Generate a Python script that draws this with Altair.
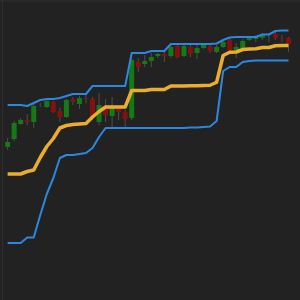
import altair as alt
import pandas as pd

# Candle index (bars)
idx = list(range(44))

opens = [153, 161, 176, 180, 178, 195, 193, 198, 189, 183, 201, 196, 202, 201, 178, 192, 184, 192, 188, 182,
         238, 236, 239, 244, 246, 244, 254, 244, 253, 247, 252, 254, 248, 253, 260, 250, 252, 260, 261, 262,
         265, 266, 262, 262]
closes = [158, 177, 180, 178, 194, 195, 199, 188, 183, 200, 198, 202, 201, 183, 195, 185, 192, 188, 181, 240,
          233, 239, 243, 246, 244, 253, 243, 254, 246, 252, 255, 249, 253, 258, 250, 253, 259, 262, 263, 265,
          265, 262, 261.5, 256]
highs = [162, 179, 182, 186, 197, 197, 200, 199, 192, 201, 203, 204, 206, 203, 207, 201, 203, 194, 190, 242,
         242, 245, 247, 247, 249, 255, 255, 256, 256, 255, 257, 257, 255, 260, 262, 257, 261, 263, 265, 267,
         267, 268, 265, 263]
lows = [150, 159, 175, 175, 172, 193, 192, 187, 178, 182, 195, 191, 197, 180, 175, 178, 173, 180, 173, 180,
        228, 233, 233, 242, 238, 242, 242, 243, 243, 241, 251, 247, 247, 252, 248, 242, 250, 259, 258, 260,
        258, 260, 258, 248]

# Donchian channel
upper = [195, 195, 195, 194, 197, 200, 201, 201, 202, 204, 206, 206, 206, 214, 214, 214, 214, 214, 214, 247,
         247, 247, 249, 249, 249, 256, 256, 256, 256, 256, 256, 256, 256.5, 260, 262.5, 263, 263, 263, 263, 265.5,
         265.5, 269, 269.5, 269.5]
lower = [57, 57, 57, 62.5, 62.5, 85, 106, 122, 142, 145, 145, 146, 147, 152, 163, 172, 172, 172, 172, 172,
         172, 172, 172, 172, 172, 172, 172, 172, 172.5, 172.5, 173, 173.5, 179, 229, 233, 233, 238, 239, 239.5, 239.5,
         239.5, 239.5, 239.5, 239.5]
middle = [126, 126, 126, 128.5, 130, 142.5, 153.5, 161.5, 172, 174.5, 175.5, 176, 176.5, 183, 188.5, 193, 193, 193, 193, 209.5,
          209.5, 209.5, 210.5, 210.5, 210.5, 214, 214, 214, 214.25, 214.25, 214.5, 214.75, 217.75, 244.5, 247.75, 248, 250.5, 251, 251.25, 252.5,
          252.5, 254.25, 254.5, 254.5]

df = pd.DataFrame({"i": idx, "open": opens, "close": closes, "high": highs, "low": lows,
                   "upper": upper, "lower": lower, "middle": middle})
df["dir"] = ["up" if c >= o else "down" for o, c in zip(opens, closes)]

xs = alt.Scale(domain=[-0.4, 44.0], nice=False, zero=False)
ys = alt.Scale(domain=[0, 300], nice=False, zero=False)
X = alt.X("i:Q", scale=xs, axis=None)

base = alt.Chart(df)

grid_v = alt.Chart(pd.DataFrame({"a": [0]})).mark_rule(color="#2e2e2e", strokeWidth=1).encode(
    x=alt.value(2.5), y=alt.value(0), y2=alt.value(300))
grid_h = alt.Chart(pd.DataFrame({"a": [0]})).mark_rule(color="#2e2e2e", strokeWidth=1).encode(
    y=alt.value(1), x=alt.value(0), x2=alt.value(300))

wicks = base.mark_rule(color="#4e4e4e", strokeWidth=1).encode(
    x=X, y=alt.Y("low:Q", scale=ys, axis=None), y2="high:Q")

bodies = base.mark_bar(size=5).encode(
    x=X, y=alt.Y("open:Q", scale=ys, axis=None), y2="close:Q",
    color=alt.Color("dir:N", scale=alt.Scale(domain=["up", "down"], range=["#157a15", "#85100f"]), legend=None))

band_lo = base.mark_line(color="#2b88e0", strokeWidth=2, strokeJoin="round").encode(
    x=X, y=alt.Y("lower:Q", scale=ys, axis=None))
band_up = base.mark_line(color="#2b88e0", strokeWidth=2, strokeJoin="round").encode(
    x=X, y=alt.Y("upper:Q", scale=ys, axis=None))
mid = base.mark_line(color="#ebae2c", strokeWidth=3.5, strokeJoin="round").encode(
    x=X, y=alt.Y("middle:Q", scale=ys, axis=None))

chart = alt.layer(grid_v, grid_h, wicks, bodies, band_lo, band_up, mid).properties(
    width=300, height=300, background="#222222", padding=0,
    autosize=alt.AutoSizeParams(type="none")
).configure_view(stroke=None, fill="#222222")

chart.save("out.html", embed_options={"renderer": "svg", "actions": False})
